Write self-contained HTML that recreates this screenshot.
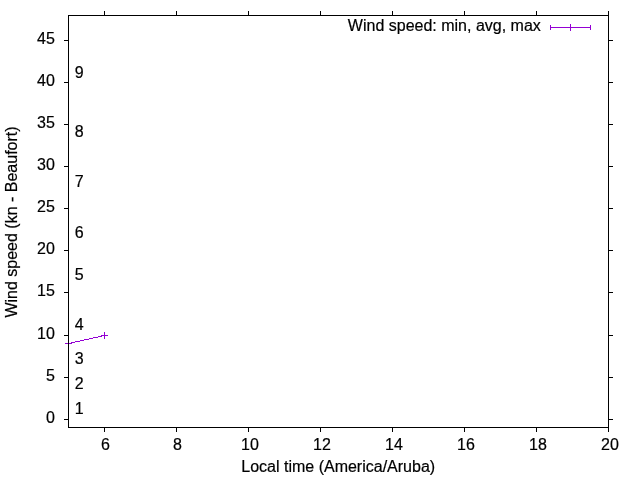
<!DOCTYPE html>
<html><head><meta charset="utf-8"><style>
html,body{margin:0;padding:0;background:#fff;}
svg{display:block;}
svg text{-webkit-font-smoothing:antialiased;}
text{font-family:"Liberation Sans",sans-serif;font-size:16px;fill:#000;stroke:#000;stroke-width:0.2px;}
</style></head><body>
<svg style="will-change:transform" width="640" height="480" viewBox="0 0 640 480">
<rect x="0" y="0" width="640" height="480" fill="#fff"/>
<g shape-rendering="crispEdges">
<rect x="550" y="27" width="41" height="1" fill="#9400d3"/>
<rect x="550" y="25" width="1" height="5" fill="#9400d3"/>
<rect x="590" y="25" width="1" height="5" fill="#9400d3"/>
<rect x="570" y="24" width="1" height="7" fill="#9400d3"/>
<rect x="104" y="332" width="1" height="7" fill="#9400d3"/>
<rect x="101" y="335" width="7" height="1" fill="#9400d3"/>
<rect x="65" y="343" width="7" height="1" fill="#9400d3"/>
<rect x="71" y="342" width="4" height="1" fill="#9400d3"/>
<rect x="75" y="341" width="5" height="1" fill="#9400d3"/>
<rect x="80" y="340" width="4" height="1" fill="#9400d3"/>
<rect x="84" y="339" width="5" height="1" fill="#9400d3"/>
<rect x="89" y="338" width="4" height="1" fill="#9400d3"/>
<rect x="93" y="337" width="5" height="1" fill="#9400d3"/>
<rect x="98" y="336" width="4" height="1" fill="#9400d3"/>
<rect x="68" y="15" width="541" height="1" fill="#000"/>
<rect x="68" y="427" width="541" height="1" fill="#000"/>
<rect x="68" y="15" width="1" height="413" fill="#000"/>
<rect x="608" y="15" width="1" height="413" fill="#000"/>
<rect x="64" y="419" width="4" height="1" fill="#000"/>
<rect x="609" y="419" width="4" height="1" fill="#000"/>
<rect x="64" y="377" width="4" height="1" fill="#000"/>
<rect x="609" y="377" width="4" height="1" fill="#000"/>
<rect x="64" y="335" width="4" height="1" fill="#000"/>
<rect x="609" y="335" width="4" height="1" fill="#000"/>
<rect x="64" y="292" width="4" height="1" fill="#000"/>
<rect x="609" y="292" width="4" height="1" fill="#000"/>
<rect x="64" y="250" width="4" height="1" fill="#000"/>
<rect x="609" y="250" width="4" height="1" fill="#000"/>
<rect x="64" y="208" width="4" height="1" fill="#000"/>
<rect x="609" y="208" width="4" height="1" fill="#000"/>
<rect x="64" y="166" width="4" height="1" fill="#000"/>
<rect x="609" y="166" width="4" height="1" fill="#000"/>
<rect x="64" y="124" width="4" height="1" fill="#000"/>
<rect x="609" y="124" width="4" height="1" fill="#000"/>
<rect x="64" y="82" width="4" height="1" fill="#000"/>
<rect x="609" y="82" width="4" height="1" fill="#000"/>
<rect x="64" y="40" width="4" height="1" fill="#000"/>
<rect x="609" y="40" width="4" height="1" fill="#000"/>
<rect x="104" y="428" width="1" height="4" fill="#000"/>
<rect x="104" y="11" width="1" height="4" fill="#000"/>
<rect x="176" y="428" width="1" height="4" fill="#000"/>
<rect x="176" y="11" width="1" height="4" fill="#000"/>
<rect x="248" y="428" width="1" height="4" fill="#000"/>
<rect x="248" y="11" width="1" height="4" fill="#000"/>
<rect x="320" y="428" width="1" height="4" fill="#000"/>
<rect x="320" y="11" width="1" height="4" fill="#000"/>
<rect x="392" y="428" width="1" height="4" fill="#000"/>
<rect x="392" y="11" width="1" height="4" fill="#000"/>
<rect x="464" y="428" width="1" height="4" fill="#000"/>
<rect x="464" y="11" width="1" height="4" fill="#000"/>
<rect x="536" y="428" width="1" height="4" fill="#000"/>
<rect x="536" y="11" width="1" height="4" fill="#000"/>
<rect x="608" y="428" width="1" height="4" fill="#000"/>
<rect x="608" y="11" width="1" height="4" fill="#000"/>
</g>
<text x="54.8" y="423" text-anchor="end">0</text>
<text x="54.8" y="381" text-anchor="end">5</text>
<text x="54.8" y="339" text-anchor="end">10</text>
<text x="54.8" y="296" text-anchor="end">15</text>
<text x="54.8" y="254" text-anchor="end">20</text>
<text x="54.8" y="212" text-anchor="end">25</text>
<text x="54.8" y="170" text-anchor="end">30</text>
<text x="54.8" y="128" text-anchor="end">35</text>
<text x="54.8" y="86" text-anchor="end">40</text>
<text x="54.8" y="44" text-anchor="end">45</text>
<text x="105.5" y="450" text-anchor="middle">6</text>
<text x="177.5" y="450" text-anchor="middle">8</text>
<text x="250.0" y="450" text-anchor="middle">10</text>
<text x="322.0" y="450" text-anchor="middle">12</text>
<text x="394.0" y="450" text-anchor="middle">14</text>
<text x="466.0" y="450" text-anchor="middle">16</text>
<text x="538.0" y="450" text-anchor="middle">18</text>
<text x="610.0" y="450" text-anchor="middle">20</text>
<text x="74.7" y="414">1</text>
<text x="74.7" y="389">2</text>
<text x="74.7" y="364">3</text>
<text x="74.7" y="330">4</text>
<text x="74.7" y="280">5</text>
<text x="74.7" y="238">6</text>
<text x="74.7" y="187">7</text>
<text x="74.7" y="137">8</text>
<text x="74.7" y="78">9</text>
<text x="338.2" y="472" text-anchor="middle">Local time (America/Aruba)</text>
<text transform="translate(17,222) rotate(-90)" x="0" y="0" text-anchor="middle">Wind speed (kn - Beaufort)</text>
<text x="540.8" y="31" text-anchor="end">Wind speed: min, avg, max</text>
</svg>
</body></html>
